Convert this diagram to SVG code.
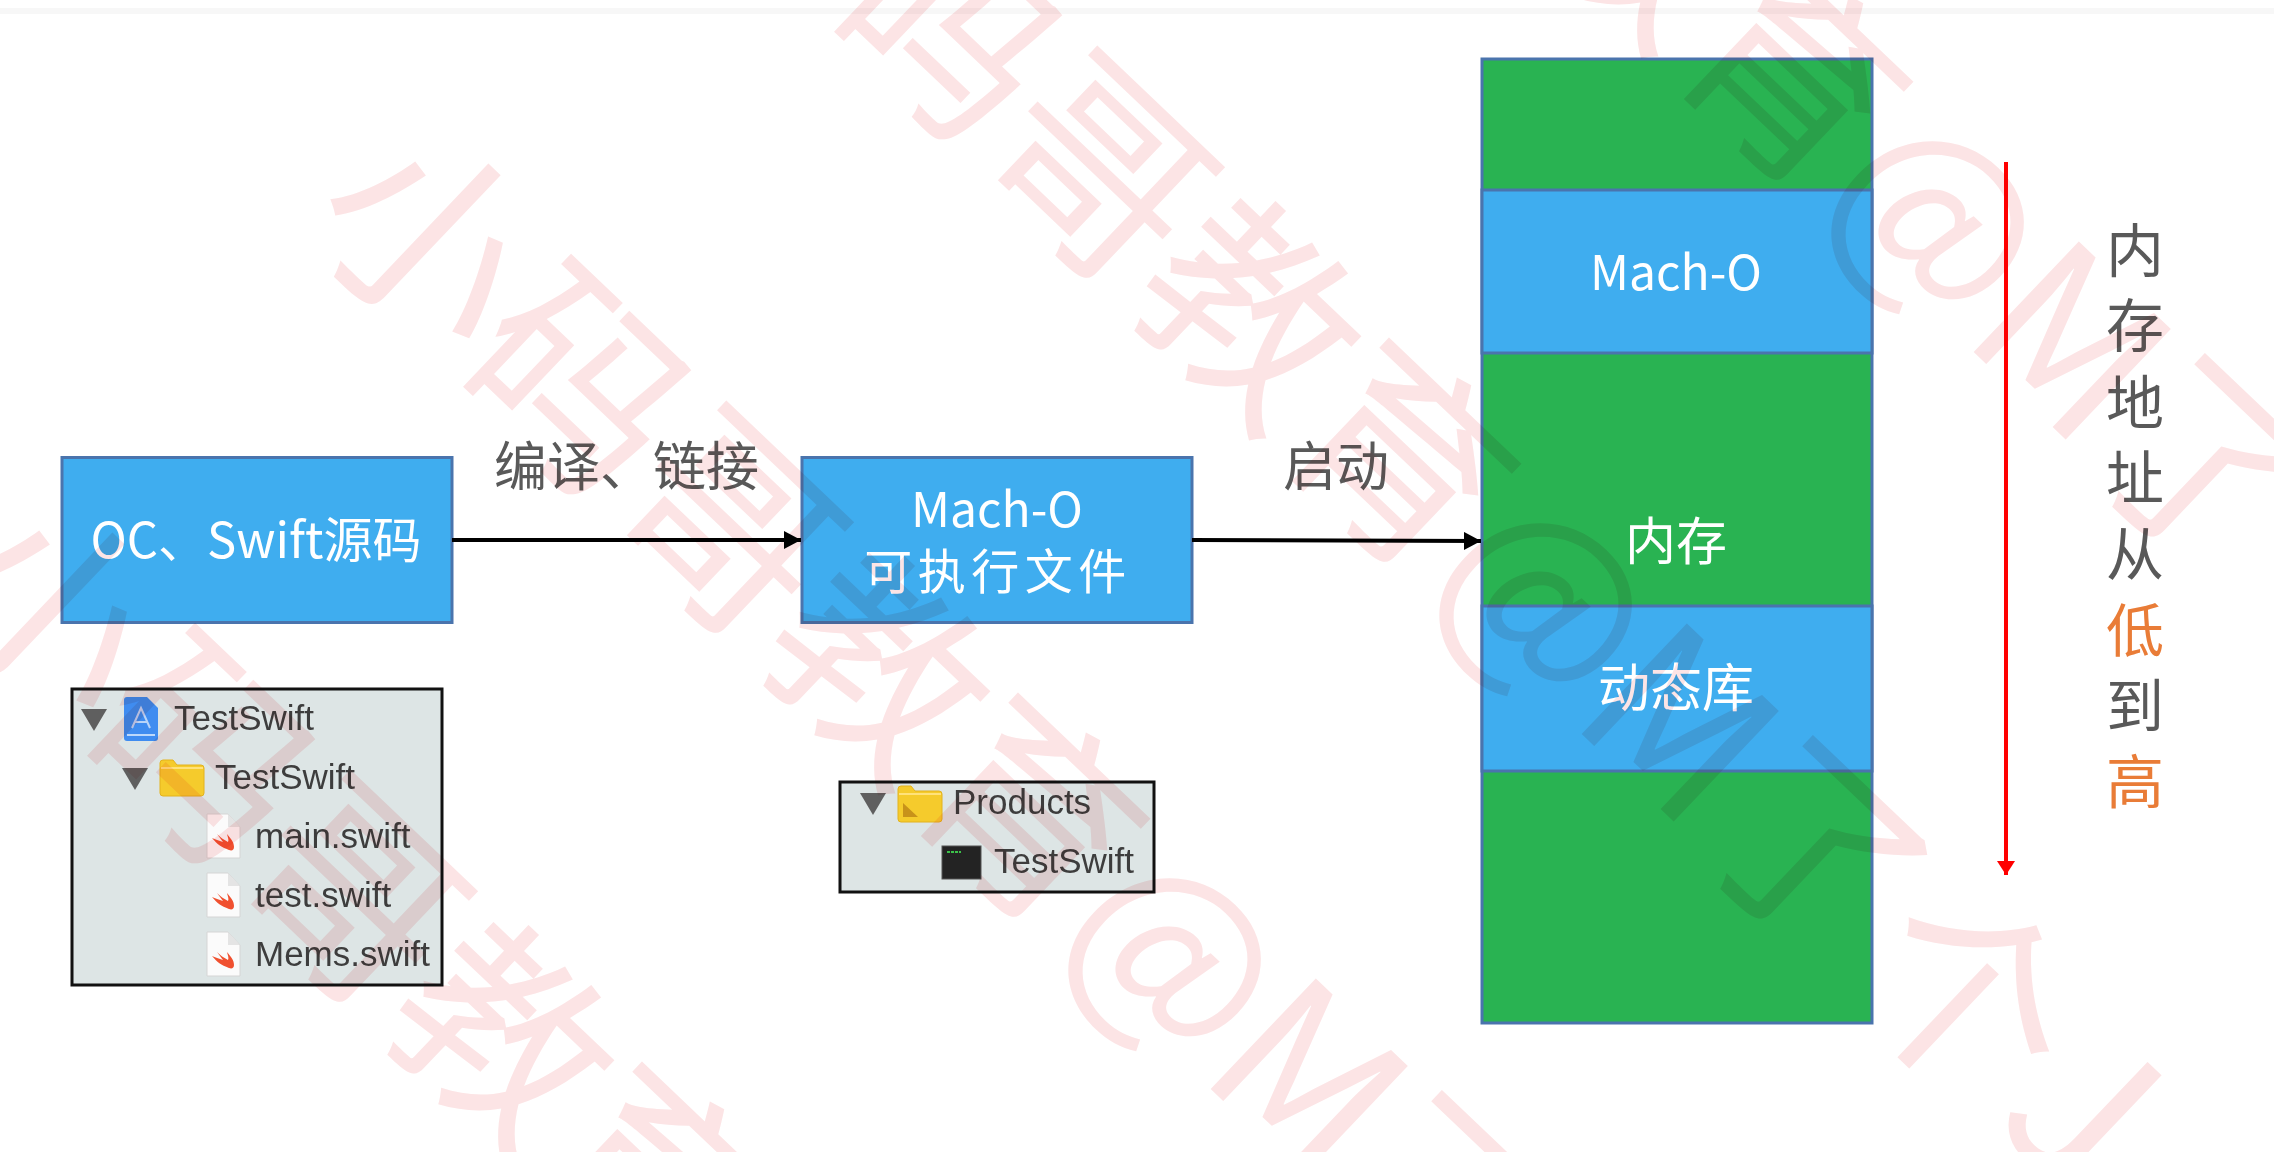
<svg xmlns="http://www.w3.org/2000/svg" width="2274" height="1152" viewBox="0 0 2274 1152">
<style>
.cjk{font-family:"Noto Sans CJK SC","Noto Sans",sans-serif}
.blue{fill:#3fadef;stroke:#4a74ad;stroke-width:3}
.green{fill:#29b352;stroke:#4a74ad;stroke-width:3}
.w{fill:#fff;text-anchor:middle;font-weight:400}
.g{fill:#595959;font-size:53px}
.v{font-size:58px;text-anchor:middle;fill:#595959}
.panel{fill:#dde5e5;stroke:#111;stroke-width:3}
.f{font-family:"Liberation Sans",Arial,sans-serif;font-size:35px;fill:#3d3d3d}
.tri{fill:#5f5f5f}
.doc{fill:#fbfbfb;stroke:#d5d5d5;stroke-width:1}
.sw{fill:#f0502f}
.wm text{font-family:"Noto Sans CJK SC","Noto Sans",sans-serif;font-size:208px;fill:#fce4e5}
.wm{mix-blend-mode:multiply}
</style>
<defs>
<marker id="ab" viewBox="0 0 10 10" refX="10" refY="5" markerUnits="userSpaceOnUse" markerWidth="17" markerHeight="18" orient="auto" preserveAspectRatio="none"><path d="M0 0L10 5L0 10Z" fill="#000"/></marker>
<marker id="ar" viewBox="0 0 10 10" refX="10" refY="5" markerUnits="userSpaceOnUse" markerWidth="14" markerHeight="18" orient="auto" preserveAspectRatio="none"><path d="M0 0L10 5L0 10Z" fill="#f00"/></marker>
<g id="swiftdoc"><path class="doc" d="M0 0H21L33 13V44H0Z"/><path d="M21 0V13H33Z" fill="#e4e4e4"/><path class="sw" d="M5 24C10 30 14 33 22 36C25 37 27 36 27 33C27 28 24 25 20 20C21 24 22 26 21 28C17 26 13 23 10 20C12 23 14 25 16 28C12 27 8 25 5 24Z"/></g>
<g id="folder"><path d="M0 3Q0 0 3 0H13L17 5H41Q44 5 44 8V33Q44 36 41 36H3Q0 36 0 33Z" fill="#f5cb2c" stroke="#e3b21c"/><path d="M1 8H43" stroke="#ffe27a" stroke-width="2"/></g>
</defs>
<rect width="2274" height="1152" fill="#fff"/>
<rect y="8" width="2274" height="6" fill="#f7f7f7"/>

<g id="source"><rect class="blue" x="62" y="457.500" width="390" height="165"/><text class="cjk w" x="256" y="558" font-size="49">OC、Swift源码</text></g>
<g id="macho-file"><rect class="blue" x="802" y="457.500" width="390" height="165"/><text class="cjk w" x="997" y="527" font-size="48">Mach-O</text><text class="cjk w" x="998" y="589" font-size="48" letter-spacing="5.500">可执行文件</text></g>
<g id="memory">
<rect class="green" x="1482" y="59" width="390" height="964"/>
<rect class="blue" x="1482" y="190" width="390" height="163"/>
<rect class="blue" x="1482" y="606" width="390" height="165"/>
<text class="cjk w" x="1676" y="290" font-size="48">Mach-O</text>
<text class="cjk w" x="1676" y="560" font-size="51">内存</text>
<text class="cjk w" x="1676" y="707" font-size="52">动态库</text>
</g>

<g id="connectors" fill="none">
<path d="M452 540H801" stroke="#000" stroke-width="4" marker-end="url(#ab)"/>
<path d="M1192 540L1481 541" stroke="#000" stroke-width="4" marker-end="url(#ab)"/>
<path d="M2006 162V875" stroke="#f00" stroke-width="4" marker-end="url(#ar)"/>
</g>
<g id="label-compile"><text class="cjk g" x="494" y="486">编译、链接</text></g>
<g id="label-launch"><text class="cjk g" x="1283" y="486">启动</text></g>

<g id="address-label" class="cjk">
<text class="v" x="2135" y="272">内</text>
<text class="v" x="2135" y="347">存</text>
<text class="v" x="2135" y="424">地</text>
<text class="v" x="2135" y="499">址</text>
<text class="v" x="2135" y="575">从</text>
<text class="v" x="2135" y="652" style="fill:#e97c37">低</text>
<text class="v" x="2135" y="727">到</text>
<text class="v" x="2135" y="803" style="fill:#e97c37">高</text>
</g>

<g id="source-tree">
<rect class="panel" x="72" y="689" width="370" height="296"/>
<path class="tri" d="M81 709H107L94 731Z"/>
<path class="tri" d="M122 768H148L135 790Z"/>
<path d="M124 700Q124 697 127 697H147L158 708V738Q158 741 155 741H127Q124 741 124 738Z" fill="#3f8cf0"/><path d="M127 735H155" stroke="#bcd8fb" stroke-width="2"/><path d="M132 728L141 708L150 728M135 722H147" fill="none" stroke="#b9d4f8" stroke-width="2"/>
<use href="#folder" x="160" y="760"/>
<use href="#swiftdoc" x="207" y="814"/>
<use href="#swiftdoc" x="207" y="873"/>
<use href="#swiftdoc" x="207" y="932"/>
<text class="f" x="174" y="730">TestSwift</text>
<text class="f" x="215" y="789">TestSwift</text>
<text class="f" x="255" y="848">main.swift</text>
<text class="f" x="255" y="907">test.swift</text>
<text class="f" x="255" y="966">Mems.swift</text>
</g>
<g id="products-tree">
<rect class="panel" x="840" y="782" width="314" height="110"/>
<path class="tri" d="M860 793H886L873 815Z"/>
<use href="#folder" x="898" y="786"/><path d="M903 817V803L918 817Z" fill="#c8921a"/>
<rect x="942" y="846" width="39" height="33" fill="#232323" stroke="#555"/><path d="M947 852H961" stroke="#3cc24a" stroke-width="2" stroke-dasharray="3 1"/>
<text class="f" x="953" y="814">Products</text>
<text class="f" x="994" y="873">TestSwift</text>
</g>

<g class="wm" id="watermark">
<text transform="translate(427 239) rotate(43.6)" x="-104" y="75">小码哥教育@M了个J</text>
<text transform="translate(51 608) rotate(43.6)" x="-104" y="75">小码哥教育@M了个J</text>
<text transform="translate(798 -116) rotate(43.6)" x="-104" y="75">小码哥教育@M了个J</text>
<text transform="translate(1190 -498) rotate(43.6)" x="-104" y="75">小码哥教育@M了个J</text>
</g>
</svg>
